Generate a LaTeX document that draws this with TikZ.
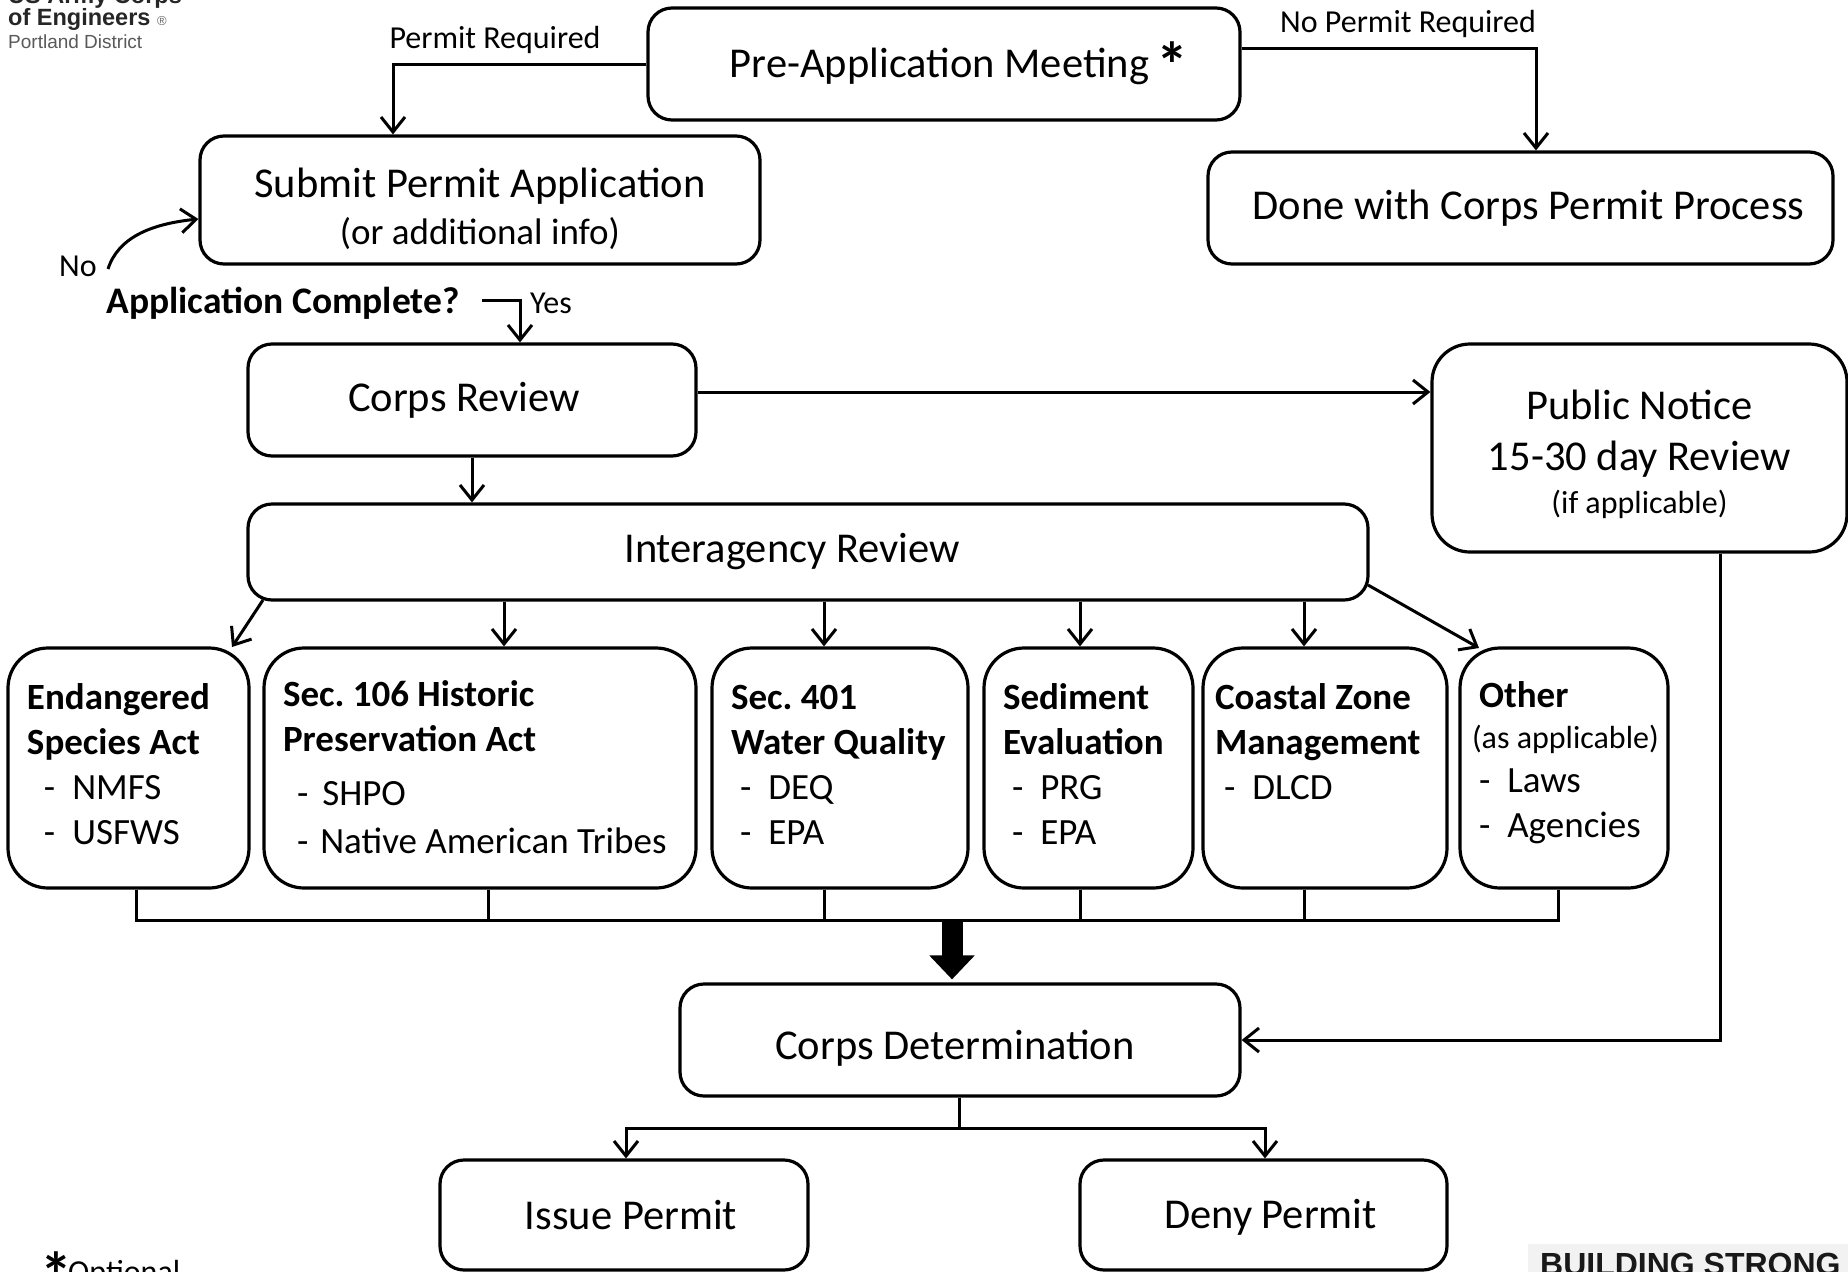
\documentclass[tikz,border=0pt]{standalone}
\usepackage{fontspec}
\setmainfont{Carlito}
\newfontfamily\arialf{Liberation Sans}
\usetikzlibrary{arrows.meta}
\frenchspacing
\newcommand{\fbig}{\fontsize{42.5}{47}\selectfont}
\newcommand{\fmid}{\fontsize{37}{45}\selectfont}
\newcommand{\fsmall}{\fontsize{32}{38}\selectfont}
\newcommand{\bul}[1]{\hspace*{17pt}-\hspace{17pt}#1}
\newcommand{\bulb}[1]{\hspace*{9pt}-\hspace{17pt}#1}
\newcommand{\hstrut}[1]{\rule{0pt}{#1pt}}
\newcommand{\dstrut}[1]{\rule[-#1pt]{0pt}{1pt}}
\tikzset{
  x=1pt,y=-1pt,
  box/.style={draw=black,line width=3.2pt,rounded corners=24pt,align=center,inner sep=0pt,font=\fbig},
  act/.style={draw=black,line width=3.2pt,rounded corners=40pt,align=flush left,inner xsep=19pt,inner ysep=0pt,font=\fmid,minimum height=240pt},
  lbl/.style={font=\fsmall,inner sep=0pt},
  conn/.style={draw=black,line width=3pt,-{Straight Barb[length=15pt,width=24pt,line width=3pt]}},
  plain/.style={draw=black,line width=3pt},
  thick arrow/.style={draw=black,line width=21pt,-{Triangle[length=24pt,width=44pt]},shorten >=3pt}
}
\begin{document}
\begin{tikzpicture}
\useasboundingbox (0,0) rectangle (1848,1272);
\clip (0,0) rectangle (1848,1272);
% logo
\node[anchor=base west,inner sep=0pt,font=\arialf\bfseries\fontsize{23.5}{24}\selectfont,text=black!85] (logoa) at (8,3) {US Army Corps};
\node[anchor=base west,inner sep=0pt,font=\arialf\bfseries\fontsize{23.5}{24}\selectfont,text=black!85] (logob) at (8,25) {of Engineers};
\node[anchor=base west,inner sep=0pt,font=\arialf\fontsize{13}{13}\selectfont,text=black!60] (logoc) at (157,25) {®};
\node[anchor=base west,inner sep=0pt,font=\arialf\fontsize{19}{19}\selectfont,text=black!65] (logod) at (8,48) {Portland District};
% main boxes
\node[box,minimum width=592pt,minimum height=112pt] (pre) at (944,64) {\hspace*{30pt}\hstrut{34}Pre-Application Meeting\,\smash{\raisebox{-10pt}{\fontsize{64}{64}\selectfont\bfseries *}}};
\node[box,minimum width=560pt,minimum height=128pt] (submit) at (480,200) {\hstrut{47}Submit Permit Application\\{\fmid (or additional info)}};
\node[box,minimum width=625pt,minimum height=112pt] (done) at (1520.5,208) {\hspace*{16pt}Done with Corps Permit Process};
\node[box,minimum width=448pt,minimum height=112pt] (review) at (472,400) {Corps Review\hspace*{16pt}};
\node[box,rounded corners=38pt,minimum width=415pt,minimum height=208pt] (notice) at (1639.5,448) {\hstrut{43}Public Notice\\[4pt]15-30 day Review\\[-4pt]{\fsmall (if applicable)}};
\node[box,minimum width=1120pt,minimum height=96pt] (inter) at (808,552) {Interagency Review\hspace*{32pt}};
\node[act,minimum width=241pt,text width=203pt] (esa) at (128.5,768) {\textbf{Endangered}\\\textbf{Species Act}\\\bul{NMFS}\\\bul{USFWS}\dstrut{7}};
\node[act,minimum width=432pt,text width=394pt] (hist) at (480,768) {\textbf{Sec. 106 Historic}\\\textbf{Preservation Act}\\[9pt]\hspace*{14pt}-\hspace{14pt}SHPO\\[3pt]\hspace*{14pt}-\hspace{12pt}Native American Tribes\dstrut{2}};
\node[act,minimum width=256pt,text width=218pt] (wq) at (840,768) {\textbf{Sec. 401}\\\textbf{Water Quality}\\\bulb{DEQ}\\\bulb{EPA}\dstrut{6}};
\node[act,minimum width=209pt,text width=171pt] (sed) at (1088.5,768) {\textbf{Sediment}\\\textbf{Evaluation}\\\bulb{PRG}\\\bulb{EPA}\dstrut{8}};
\node[act,inner xsep=12pt,minimum width=244pt,text width=220pt] (czm) at (1325,768) {\textbf{Coastal Zone}\\\textbf{Management}\\\hspace*{9pt}-\hspace{17pt}DLCD\\\phantom{X}\dstrut{8}};
\node[act,inner xsep=9pt,minimum width=208pt,text width=190pt] (other) at (1564,768) {\hspace*{10pt}\textbf{Other}\\[-4pt]\hspace*{3pt}{\fsmall (as applicable)}\\[-1pt]\hspace*{10pt}-\hspace{17pt}Laws\\\hspace*{10pt}-\hspace{17pt}Agencies\dstrut{17}};
\node[box,minimum width=560pt,minimum height=112pt] (det) at (960,1040) {\hstrut{45}Corps Determination\hspace*{10pt}};
\node[box,minimum width=368pt,minimum height=110pt] (issue) at (624,1215) {\hspace*{14pt}Issue Permit};
\node[box,minimum width=367pt,minimum height=110pt] (deny) at (1263.5,1215) {\hstrut{34}\hspace*{14pt}Deny Permit};
% labels
\node[lbl] (lreq) at (495,40) {Permit Required};
\node[lbl] (lnoreq) at (1408,23.5) {No Permit Required};
\node[lbl] (lno) at (78,266) {No};
\node[lbl] (lyes) at (551,303) {Yes};
\node[inner sep=0pt,font=\bfseries\fontsize{37.5}{38}\selectfont] (app) at (283,303) {Application Complete?};
\node[anchor=base west,inner sep=0pt,font=\fontsize{64}{64}\selectfont\bfseries] (star) at (40,1297) {*};
\node[anchor=base west,inner sep=0pt,font=\fontsize{32}{32}\selectfont] (opt) at (68,1282) {Optional};
% banner
\fill[black!5] (1528,1244) rectangle (1848,1272);
\node[anchor=base west,inner sep=0pt,font=\arialf\bfseries\fontsize{32}{32}\selectfont,text=black!90] (bs) at (1540,1275) {BUILDING STRONG};
% connectors
\coordinate (c1) at (393,64);
\draw[conn] (pre.west |- c1) -| (submit.north -| c1);
\coordinate (c2) at (1536,48);
\draw[conn] (pre.east |- c2) -| (done.north -| c2);
\coordinate (n1) at (108,269);
\draw[conn] (n1) .. controls (118,238) and (150,224) .. (submit.west |- 0,219);
\coordinate (c3) at (482,300);
\coordinate (c4) at (520,300);
\draw[conn] (c3) -| (review.north -| c4);
\coordinate (c5) at (0,392);
\draw[conn] (review.east |- c5) -- (notice.west |- c5);
\coordinate (c6) at (472,0);
\draw[conn] (review.south -| c6) -- (inter.north -| c6);
\coordinate (d1) at (263,600);
\draw[conn] (d1) -- (232,647);
\draw[conn] (inter.south -| 504,0) -- (hist.north -| 504,0);
\draw[conn] (inter.south -| 824,0) -- (wq.north -| 824,0);
\draw[conn] (inter.south -| 1080,0) -- (sed.north -| 1080,0);
\draw[conn] (inter.south -| 1304,0) -- (czm.north -| 1304,0);
\coordinate (d2) at (1368,585);
\draw[conn] (d2) -- (1479,648);
% bus
\coordinate (busy) at (0,920);
\draw[plain] (esa.south -| 136,0) |- (busy -| 952,0);
\draw[plain] (other.south -| 1558,0) |- (busy -| 952,0);
\draw[plain] (hist.south -| 488,0) -- (busy -| 488,0);
\draw[plain] (wq.south -| 824,0) -- (busy -| 824,0);
\draw[plain] (sed.south -| 1080,0) -- (busy -| 1080,0);
\draw[plain] (czm.south -| 1304,0) -- (busy -| 1304,0);
\draw[thick arrow] (busy -| 952,0) -- (det.north -| 952,0);
% notice to determination
\coordinate (c7) at (1720,0);
\draw[conn] (notice.south -| c7) |- (det.east);
% determination to results
\coordinate (split) at (959,1128);
\draw[plain] (det.south -| split) -- (split);
\draw[conn] (split) -| (issue.north -| 626,0);
\draw[conn] (split) -| (deny.north -| 1265,0);
\end{tikzpicture}
\end{document}
